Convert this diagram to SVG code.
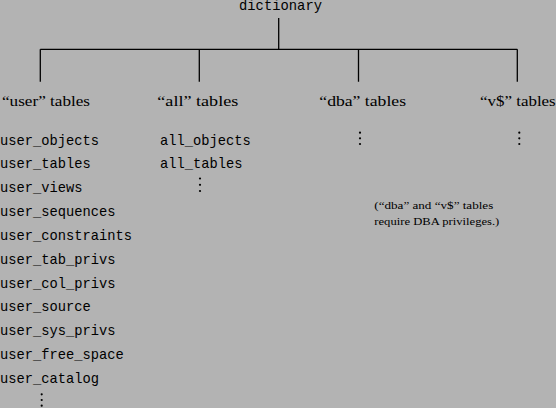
<svg xmlns="http://www.w3.org/2000/svg" width="556" height="408" viewBox="0 0 556 408">
<style>
.mono{font-family:"Liberation Mono","DejaVu Sans Mono",monospace;font-size:13.75px;fill:#000}
.lbl{font-family:"Liberation Serif","DejaVu Serif",serif;font-size:15.5px;fill:#000}
.note{font-family:"Liberation Serif","DejaVu Serif",serif;font-size:10.5px;fill:#000}
.ln{stroke:#000;stroke-width:1.3;fill:none}
.dot{fill:#000}
</style>
<rect width="556" height="408" fill="#b3b3b3"/>
<g id="connectors">
<path class="ln" d="M278.7 18V49.3M40.3 49.3H517.3M40.3 49.3V81.7M199.3 49.3V81.7M358.5 49.3V81.7M517.3 49.3V81.7"/>
</g>
<g id="dictionary"><text class="mono" x="239" y="9.5" textLength="83" lengthAdjust="spacingAndGlyphs">dictionary</text></g>
<g id="user-tables">
<text class="lbl" x="2" y="106" textLength="88" lengthAdjust="spacingAndGlyphs">“user” tables</text>
<text class="mono" x="0" y="144.5">user_objects</text>
<text class="mono" x="0" y="168.3">user_tables</text>
<text class="mono" x="0" y="192.2">user_views</text>
<text class="mono" x="0" y="216">user_sequences</text>
<text class="mono" x="0" y="239.9">user_constraints</text>
<text class="mono" x="0" y="263.7">user_tab_privs</text>
<text class="mono" x="0" y="287.6">user_col_privs</text>
<text class="mono" x="0" y="311.4">user_source</text>
<text class="mono" x="0" y="335.3">user_sys_privs</text>
<text class="mono" x="0" y="359.1">user_free_space</text>
<text class="mono" x="0" y="383">user_catalog</text>
<circle class="dot" cx="41.7" cy="394.3" r="1.1"/><circle class="dot" cx="41.7" cy="400" r="1.1"/><circle class="dot" cx="41.7" cy="405.7" r="1.1"/>
</g>
<g id="all-tables">
<text class="lbl" x="157.3" y="106" textLength="81" lengthAdjust="spacingAndGlyphs">“all” tables</text>
<text class="mono" x="160" y="144.5">all_objects</text>
<text class="mono" x="160" y="168.3">all_tables</text>
<circle class="dot" cx="200" cy="178.5" r="1.1"/><circle class="dot" cx="200" cy="184.8" r="1.1"/><circle class="dot" cx="200" cy="191" r="1.1"/>
</g>
<g id="dba-tables">
<text class="lbl" x="319.3" y="106" textLength="86.7" lengthAdjust="spacingAndGlyphs">“dba” tables</text>
<circle class="dot" cx="360" cy="132.7" r="1.1"/><circle class="dot" cx="360" cy="138.3" r="1.1"/><circle class="dot" cx="360" cy="144" r="1.1"/>
</g>
<g id="v-tables">
<text class="lbl" x="480" y="106" textLength="75.7" lengthAdjust="spacingAndGlyphs">“v$” tables</text>
<circle class="dot" cx="519.3" cy="132.7" r="1.1"/><circle class="dot" cx="519.3" cy="138.3" r="1.1"/><circle class="dot" cx="519.3" cy="144" r="1.1"/>
</g>
<g id="note">
<text class="note" x="374.3" y="209.3" textLength="119" lengthAdjust="spacingAndGlyphs">(“dba” and “v$” tables</text>
<text class="note" x="374.3" y="224.5" textLength="125" lengthAdjust="spacingAndGlyphs">require DBA privileges.)</text>
</g>
</svg>
